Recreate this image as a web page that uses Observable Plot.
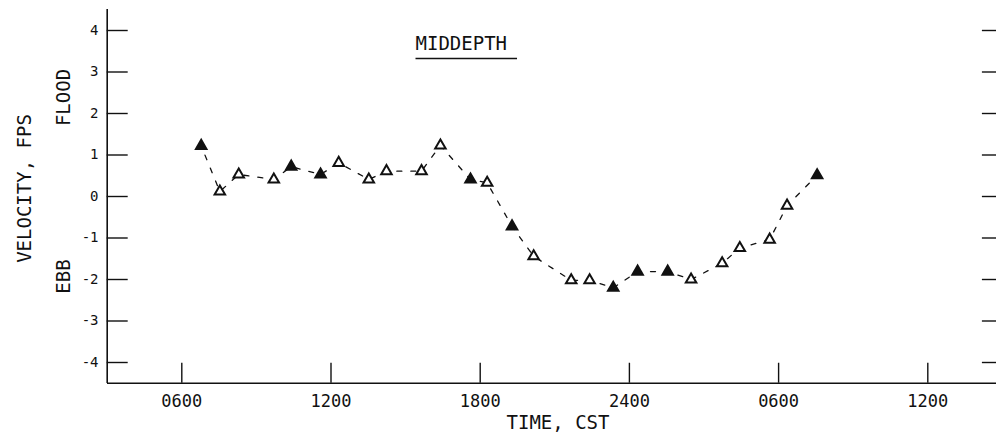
<!DOCTYPE html>
<html>
<head>
<meta charset="utf-8">
<script src="https://cdn.jsdelivr.net/npm/d3@7"></script>
<script src="https://cdn.jsdelivr.net/npm/@observablehq/plot@0.6"></script>
<style>
  html, body { margin: 0; padding: 0; background: #fff; }
  #chart svg { display: block; }
</style>
</head>
<body>
<div id="chart"></div>
<script>
// Time in hours from midnight of day 1 (CST)
const timeHours = [6.78, 7.53, 8.29, 9.70, 10.40, 11.58, 12.31, 13.52, 14.23, 15.64, 16.40, 17.61, 18.28,
                   19.28, 20.15, 21.66, 22.40, 23.35, 24.33, 25.54, 26.48, 27.73, 28.44, 29.64, 30.34, 31.55];
// Middepth velocity, fps (flood positive, ebb negative)
const velocity = [1.22, 0.12, 0.53, 0.41, 0.72, 0.53, 0.81, 0.41, 0.61, 0.61, 1.23, 0.41, 0.33,
                  -0.72, -1.44, -2.02, -2.02, -2.20, -1.81, -1.81, -2.00, -1.61, -1.24, -1.04, -0.22, 0.51];
// 1 = filled triangle, 0 = open triangle
const filledMarker = [1, 0, 0, 0, 1, 1, 0, 0, 0, 0, 0, 1, 0, 1, 0, 0, 0, 1, 1, 1, 0, 0, 0, 0, 0, 1];

const xDomain = [3, 39];
const xTicks = [6, 12, 18, 24, 30, 36];
const xTickLabels = ["0600", "1200", "1800", "2400", "0600", "1200"];
const yDomain = [-4.5, 4.5];
const yTicks = [4, 3, 2, 1, 0, -1, -2, -3, -4];
const yTickLabels = ["4", "3", "2", "1", "0", "-1", "-2", "-3", "-4"];

const titleText = "MIDDEPTH";
const xLabel = "TIME, CST";
const yLabel = "VELOCITY, FPS";
const floodLabel = "FLOOD";
const ebbLabel = "EBB";

const data = timeHours.map((t, i) => ({t, v: velocity[i], filled: filledMarker[i] === 1}));

const font = "'DejaVu Sans Mono', monospace";
const ink = "#111";
const mid = {textAnchor: "middle", lineAnchor: "middle", fill: ink};

const chart = Plot.plot({
  width: 996,
  height: 435,
  marginLeft: 107, marginRight: 0, marginTop: 9, marginBottom: 52,
  style: {fontFamily: font, color: ink, background: "#fff", overflow: "visible"},
  x: {domain: xDomain, range: [106.7, 1001.9], axis: null},
  y: {domain: yDomain, range: [382.75, 9.25], axis: null},
  marks: [
    // frame: left and bottom axis lines
    Plot.ruleX([xDomain[0]], {stroke: ink, strokeWidth: 1.6}),
    Plot.ruleY([yDomain[0]], {stroke: ink, strokeWidth: 1.6}),
    // inward y ticks on the left
    Plot.ruleY(yTicks, {y: d => d, x1: xDomain[0], x2: xDomain[0], insetRight: -21, stroke: ink, strokeWidth: 1.4}),
    // inward y ticks on the right
    Plot.ruleY(yTicks, {y: d => d, x1: xDomain[1], x2: xDomain[1], insetLeft: -20, stroke: ink, strokeWidth: 1.4}),
    // inward x ticks
    Plot.ruleX(xTicks, {x: d => d, y1: yDomain[0], y2: yDomain[0], insetTop: -20, stroke: ink, strokeWidth: 1.4}),
    // tick labels
    Plot.text(xTicks, {x: d => d, frameAnchor: "bottom", dy: 18, text: (d, i) => xTickLabels[i], fontSize: 17, ...mid}),
    Plot.text(yTicks, {y: d => d, frameAnchor: "left", dx: -9, textAnchor: "end", lineAnchor: "middle", text: (d, i) => yTickLabels[i], fontSize: 14, fill: ink}),
    // axis titles
    Plot.text([xLabel], {frameAnchor: "bottom", dx: 6, dy: 39, text: d => d, fontSize: 19, ...mid}),
    Plot.text([yLabel], {frameAnchor: "top-left", dx: -83, dy: 179, rotate: -90, text: d => d, fontSize: 19, ...mid}),
    Plot.text([floodLabel], {frameAnchor: "top-left", dx: -44, dy: 88, rotate: -90, text: d => d, fontSize: 19, ...mid}),
    Plot.text([ebbLabel], {frameAnchor: "top-left", dx: -44, dy: 267, rotate: -90, text: d => d, fontSize: 19, ...mid}),
    // title
    Plot.text([titleText], {frameAnchor: "top-left", dx: 308, dy: 34, textAnchor: "start", lineAnchor: "middle", text: d => d, fontSize: 19, fill: ink}),
    // dashed connecting line
    Plot.line(data, {x: "t", y: "v", stroke: ink, strokeWidth: 1.3, strokeDasharray: "5,9", strokeDashoffset: 4}),
    // markers
    Plot.dot(data, {x: "t", y: "v", symbol: "triangle", r: 3.9, stroke: ink, strokeWidth: 2, fill: d => d.filled ? ink : "#fff"})
  ]
});

document.getElementById("chart").appendChild(chart);

// underline under the title, sized from the rendered text
const titleNode = Array.from(chart.querySelectorAll("text")).find(n => n.textContent === titleText);
if (titleNode) {
  const sr = chart.getBoundingClientRect();
  const tr = titleNode.getBoundingClientRect();
  const x0 = tr.left - sr.left, x1 = tr.right - sr.left + 10, yy = tr.bottom - sr.top + 5;
  d3.select(chart).append("line")
    .attr("x1", x0).attr("x2", x1).attr("y1", yy).attr("y2", yy)
    .attr("stroke", ink).attr("stroke-width", 1.5);
}
</script>
</body>
</html>
